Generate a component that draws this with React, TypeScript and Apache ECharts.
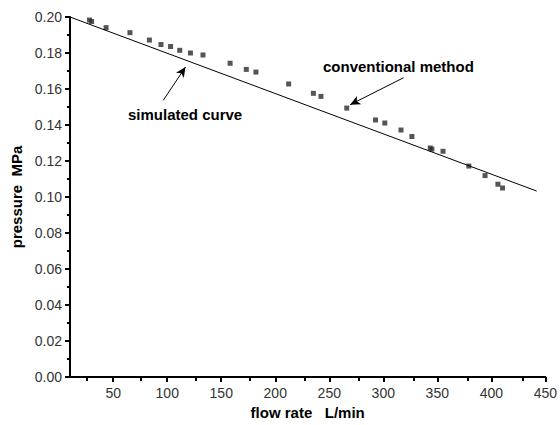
import React, { useEffect, useRef } from "react";
import * as echarts from "echarts";

// measured ("conventional method") points: flow rate (L/min), pressure (MPa)
const measuredFlow = [28, 30, 43.4, 65.5, 83.5, 94.2, 103.1, 111.6, 121.5, 133.1, 158.2, 173.2, 182.1, 212.4, 235.3, 242.3, 266.2, 292.8, 301.4, 316.4, 326.5, 343.5, 345, 355.3, 379.2, 394.2, 406.1, 410.4];
const measuredPressure = [0.1983, 0.1975, 0.1941, 0.1913, 0.1872, 0.1847, 0.1836, 0.1815, 0.18, 0.1789, 0.1743, 0.1709, 0.1694, 0.1628, 0.1576, 0.1559, 0.1494, 0.1428, 0.1411, 0.1372, 0.1336, 0.1272, 0.1266, 0.1254, 0.1172, 0.1119, 0.1071, 0.105];

// simulated curve (straight line)
const simFlow = [10, 442];
const simPressure = [0.2, 0.1033];

// tick values
const xMajorTicks = [50, 100, 150, 200, 250, 300, 350, 400, 450];
const xMinorTicks = [25, 75, 125, 175, 225, 275, 325, 375, 425];

// annotation arrows [tail, head] in data coordinates
const simArrow = [[96.3, 0.1537], [116.9, 0.1722]];
const convArrow = [[318.9, 0.1663], [269.3, 0.1513]];

const FONT = "Arial, 'Liberation Sans', sans-serif";

export default function App() {
  const ref = useRef<HTMLDivElement>(null);
  useEffect(() => {
    if (!ref.current) return;
    const chart = echarts.init(ref.current, undefined, { renderer: "svg" });
    const axisLine = { show: true, lineStyle: { color: "#000", width: 2 } };
    const option: any = {
      animation: false,
      backgroundColor: "#fff",
      grid: [
        { left: 70, right: 10, top: 17, bottom: 48 },
        { left: 70, right: 10, top: 17, bottom: 48 },
      ],
      xAxis: [
        {
          type: "value",
          gridIndex: 0,
          min: 10,
          max: 450,
          name: "flow rate   L/min",
          nameLocation: "middle",
          nameGap: 25,
          nameTextStyle: { fontFamily: FONT, fontWeight: "bold", fontSize: 15, color: "#000" },
          axisLine,
          axisTick: { show: true, customValues: xMajorTicks, length: 5, inside: false, lineStyle: { color: "#000", width: 2 } },
          axisLabel: { customValues: xMajorTicks, fontFamily: FONT, fontSize: 14, color: "#333", margin: 9 },
          splitLine: { show: false },
        },
        {
          type: "value",
          gridIndex: 1,
          min: 10,
          max: 450,
          axisLine: { show: false },
          axisTick: { show: true, customValues: xMinorTicks, length: 4, lineStyle: { color: "#000", width: 2 } },
          axisLabel: { show: false },
          splitLine: { show: false },
        },
      ],
      yAxis: [
        {
          type: "value",
          gridIndex: 0,
          min: 0,
          max: 0.2,
          interval: 0.02,
          name: "pressure  MPa",
          nameLocation: "middle",
          nameGap: 43,
          nameTextStyle: { fontFamily: FONT, fontWeight: "bold", fontSize: 15, color: "#000" },
          axisLine,
          axisTick: { show: true, length: 5, lineStyle: { color: "#000", width: 2 } },
          minorTick: { show: true, splitNumber: 2, length: 3, lineStyle: { color: "#000", width: 2 } },
          axisLabel: { fontFamily: FONT, fontSize: 14, color: "#333", margin: 8, formatter: (v: number) => v.toFixed(2) },
          splitLine: { show: false },
        },
        {
          type: "value",
          gridIndex: 1,
          min: 0,
          max: 0.2,
          show: false,
        },
      ],
      series: [
        {
          type: "line",
          xAxisIndex: 0,
          yAxisIndex: 0,
          data: simFlow.map((x, i) => [x, simPressure[i]]),
          showSymbol: false,
          symbol: "none",
          lineStyle: { color: "#000", width: 1 },
          silent: true,
          markLine: {
            silent: true,
            symbol: ["none", "arrow"],
            symbolSize: [7, 10],
            label: { show: false },
            lineStyle: { color: "#000", width: 1, type: "solid" },
            data: [
              [{ coord: simArrow[0] }, { coord: simArrow[1] }],
              [{ coord: convArrow[0] }, { coord: convArrow[1] }],
            ],
          },
        },
        {
          type: "scatter",
          xAxisIndex: 0,
          yAxisIndex: 0,
          data: measuredFlow.map((x, i) => [x, measuredPressure[i]]),
          symbol: "rect",
          symbolSize: 5,
          itemStyle: { color: "#2a2a2a" },
        },
      ],
      graphic: [
        {
          type: "text",
          left: 128,
          top: 107,
          style: { text: "simulated curve", fontFamily: FONT, fontWeight: "bold", fontSize: 15, fill: "#000" },
        },
        {
          type: "text",
          left: 323,
          top: 59,
          style: { text: "conventional method", fontFamily: FONT, fontWeight: "bold", fontSize: 15, fill: "#000" },
        },
      ],
    };
    chart.setOption(option);
    return () => chart.dispose();
  }, []);
  return (
    <div
      ref={ref}
      style={{ position: "fixed", left: 0, top: 0, width: 560, height: 425, background: "#fff" }}
    />
  );
}
